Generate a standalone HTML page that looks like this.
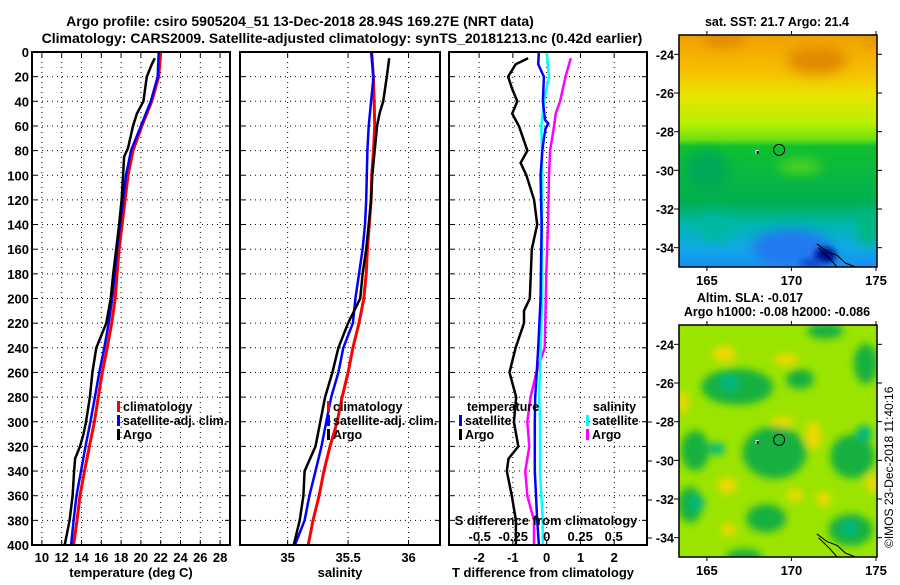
<!DOCTYPE html>
<html><head><meta charset="utf-8"><style>
body{margin:0;background:#fff;width:900px;height:580px;overflow:hidden;font-family:"Liberation Sans",sans-serif}
svg text{font-family:"Liberation Sans",sans-serif;font-weight:bold;fill:#000}
</style></head><body>
<svg id="c" width="900" height="580" viewBox="0 0 900 580" xmlns="http://www.w3.org/2000/svg">
<defs>
<filter id="blur6" x="-50%" y="-50%" width="200%" height="200%"><feGaussianBlur stdDeviation="6"/></filter>
<filter id="blur4" x="-50%" y="-50%" width="200%" height="200%"><feGaussianBlur stdDeviation="4"/></filter>
<filter id="blur3" x="-50%" y="-50%" width="200%" height="200%"><feGaussianBlur stdDeviation="3"/></filter>
<linearGradient id="sstg" x1="0" y1="0" x2="0" y2="1">
<stop offset="0" stop-color="#f0a000"/><stop offset="0.16" stop-color="#f6c000"/><stop offset="0.26" stop-color="#e8e400"/>
<stop offset="0.38" stop-color="#b8f000"/><stop offset="0.45" stop-color="#70e010"/><stop offset="0.48" stop-color="#10c030"/>
<stop offset="0.72" stop-color="#00b050"/><stop offset="0.82" stop-color="#00b8b0"/><stop offset="0.92" stop-color="#10a8e8"/><stop offset="1" stop-color="#1890f0"/>
</linearGradient>
<clipPath id="clipA"><rect x="679" y="35" width="198" height="232"/></clipPath>
<clipPath id="clipB"><rect x="679" y="325" width="198" height="232"/></clipPath>
</defs>
<text x="300" y="26" font-size="14" text-anchor="middle">Argo profile: csiro 5905204_51 13-Dec-2018 28.94S 169.27E (NRT data)</text>
<text x="342" y="43" font-size="14" text-anchor="middle">Climatology: CARS2009. Satellite-adjusted climatology: synTS_20181213.nc (0.42d earlier)</text>
<g id="g"></g>
<text transform="translate(893,548) rotate(-90)" font-size="12" style="font-weight:normal">©IMOS 23-Dec-2018 11:40:16</text>
</svg>
<script>
// ---------- data ----------
const depths = [0,20,40,60,80,100,120,140,160,180,200,220,240,260,280,300,320,340,360,380,400];
const tempClim = [22.0,21.8,21.1,20.1,19.2,18.7,18.4,18.1,17.8,17.6,17.4,17.05,16.6,16.1,15.7,15.3,14.8,14.3,13.85,13.55,13.2];
const tempSat  = [21.8,21.7,21.0,20.0,19.0,18.5,18.2,17.9,17.6,17.35,17.1,16.75,16.3,15.8,15.35,14.9,14.4,13.95,13.5,13.2,12.95];
const argoDepths = [5,10,20,40,50,60,78,85,100,120,140,160,180,200,220,230,240,260,280,300,310,320,330,340,360,380,400];
const tempArgo = [21.4,21.1,20.6,20.25,19.6,19.2,18.7,18.3,18.2,18.05,17.8,17.5,17.2,16.95,16.5,16.0,15.5,15.1,14.85,14.45,14.2,13.85,13.35,13.25,13.1,12.8,12.3];
const salClim = [35.695,35.708,35.716,35.72,35.71,35.695,35.69,35.675,35.66,35.65,35.63,35.59,35.54,35.50,35.45,35.41,35.35,35.30,35.26,35.21,35.17];
const salSat  = [35.69,35.71,35.69,35.67,35.66,35.655,35.65,35.64,35.62,35.59,35.56,35.54,35.46,35.42,35.36,35.32,35.28,35.23,35.18,35.14,35.06];
const salArgoDepths = [5,20,40,50,60,80,90,100,120,140,160,180,200,220,240,260,280,300,320,340,360,380,400];
const salArgo = [35.84,35.82,35.79,35.76,35.74,35.72,35.71,35.70,35.69,35.67,35.65,35.62,35.60,35.50,35.42,35.37,35.31,35.27,35.23,35.14,35.13,35.10,35.05];
const dTDepths = [5,10,20,30,40,50,60,80,90,100,120,140,160,180,200,210,220,240,260,280,300,320,330,340,360,380,400];
const dTArgo = [-0.55,-0.92,-1.14,-1.02,-0.87,-1.02,-0.82,-0.57,-0.77,-0.60,-0.37,-0.28,-0.44,-0.47,-0.5,-0.67,-0.67,-0.92,-1.1,-0.9,-0.97,-0.84,-1.13,-1.18,-1.03,-0.91,-0.91];
const dTSatDepths = [0,10,20,40,55,58,62,70,80,100,140,200,240,280,300,340,380,400];
const dTSat = [-0.23,-0.25,-0.08,-0.11,-0.05,0.05,-0.03,-0.08,-0.13,-0.18,-0.15,-0.18,-0.25,-0.34,-0.35,-0.35,-0.28,-0.23];
const dSSatDepths = [0,20,40,60,80,100,200,240,280,300,340,380,400];
const dSSat = [0.0,0.017,-0.02,-0.04,-0.035,-0.035,-0.035,-0.045,-0.057,-0.05,-0.05,-0.03,-0.03];
const dSArgoDepths = [5,20,40,50,60,80,100,140,180,200,240,260,280,300,320,340,360,380,400];
const dSArgo = [0.18,0.14,0.10,0.067,0.055,0.025,0.017,0.01,-0.003,-0.007,-0.015,-0.077,-0.12,-0.145,-0.13,-0.16,-0.145,-0.095,-0.095];
const depthTicks = [0,20,40,60,80,100,120,140,160,180,200,220,240,260,280,300,320,340,360,380,400];
const tempTicks = [10,12,14,16,18,20,22,24,26,28];
const salTicks = [35,35.5,36];
const dTTicks = [-2,-1,0,1,2];
const dTTickLabels = ["-2","-1","0","1","2"];
const dSTicks = [-0.5,-0.25,0,0.25,0.5];
const dSTickLabels = ["-0.5","-0.25","0","0.25","0.5"];
const latTicks = [-24,-26,-28,-30,-32,-34];
const lonTicks = [165,170,175];
const argoPos = [169.27,-28.94];

// ---------- helpers ----------
const NS="http://www.w3.org/2000/svg";
const G=document.getElementById('g');
function mk(tag,attrs,parent){const e=document.createElementNS(NS,tag);for(const k in attrs)e.setAttribute(k,attrs[k]);(parent||G).appendChild(e);return e;}
const Y0=52,Y1=545;
const yD=d=>Y0+d*(Y1-Y0)/400;
function lin(d0,d1,r0,r1){return v=>r0+(v-d0)*(r1-r0)/(d1-d0);}
const xT=lin(9,29,32,230);
const xS=lin(34.606,36.26,240,440);
const xdT=lin(-2.89,2.97,449,647);
const xdS=lin(0,1,546.7,680.7);

function panel(name,x0,x1,xTickVals,xs,showY){
  const pg=mk('g',{});
  
  
  mk('rect',{x:x0,y:Y0,width:x1-x0,height:Y1-Y0,fill:'#fff',stroke:'none'},pg);
  depthTicks.forEach(d=>{ if(d>0&&d<400){const l=mk('line',{x1:x0,x2:x1,y1:yD(d),y2:yD(d),stroke:'#000','stroke-width':1,'stroke-dasharray':'1 4'},pg);
    
    
    mk('line',{x1:x0,x2:x0+5,y1:yD(d),y2:yD(d),stroke:'#000'},pg);mk('line',{x1:x1-5,x2:x1,y1:yD(d),y2:yD(d),stroke:'#000'},pg);}
    if(showY){const t=mk('text',{x:x0-3,y:yD(d)+5,'font-size':13,'text-anchor':'end'},pg);t.textContent=d;
      
      }
  });
  xTickVals.forEach(v=>{const x=xs(v);const l=mk('line',{x1:x,x2:x,y1:Y0,y2:Y1,stroke:'#000','stroke-width':1,'stroke-dasharray':'1 4'},pg);
    
    
    mk('line',{x1:x,x2:x,y1:Y1-5,y2:Y1,stroke:'#000'},pg);mk('line',{x1:x,x2:x,y1:Y0,y2:Y0+5,stroke:'#000'},pg);});
  return pg;
}
function frame(pg,x0,x1){mk('rect',{x:x0,y:Y0,width:x1-x0,height:Y1-Y0,fill:'none',stroke:'#000','stroke-width':2},pg);}
function series(pg,name,ds,vs,xs,color,w){
  const pts=ds.map((d,i)=>xs(vs[i]).toFixed(1)+','+yD(d).toFixed(1)).join(' ');
  const p=mk('polyline',{points:pts,fill:'none',stroke:color,'stroke-width':w||2.5,'stroke-linejoin':'miter'},pg);
  
  
}
function txt(s,x,y,size,anchor,name,parent){const t=mk('text',{x:x,y:y,'font-size':size,'text-anchor':anchor||'start'},parent);t.textContent=s;
  
  return t;}
function legend(pg,x,y,color,label,name){
  const m=mk('rect',{x:x,y:y-10,width:3,height:11,fill:color},pg);
  
  
  txt(label,x+6,y,12.5,'start',name+'-label',pg);
}

// ---------- panel 1: temperature ----------
let p1=panel('temperature-panel',32,230,tempTicks,xT,true);
series(p1,'temperature-climatology-line',depths,tempClim,xT,'#ff0000',3);
series(p1,'temperature-satellite-line',depths,tempSat,xT,'#0000ff',2.5);
series(p1,'temperature-argo-line',argoDepths,tempArgo,xT,'#000000',2.5);
frame(p1,32,230);
tempTicks.forEach(v=>txt(String(v),xT(v),562,13,'middle','temperature-tick-label',p1));
txt('temperature (deg C)',131,577,13,'middle','temperature-axis-title',p1);
legend(p1,117,411,'#ff0000','climatology','legend-climatology');
legend(p1,117,425,'#0000ff','satellite-adj. clim.','legend-satellite');
legend(p1,117,439,'#000000','Argo','legend-argo');

// ---------- panel 2: salinity ----------
let p2=panel('salinity-panel',240,440,salTicks,xS,false);
series(p2,'salinity-climatology-line',depths,salClim,xS,'#ff0000',3);
series(p2,'salinity-satellite-line',depths,salSat,xS,'#0000ff',2.5);
series(p2,'salinity-argo-line',salArgoDepths,salArgo,xS,'#000000',2.5);
frame(p2,240,440);
salTicks.forEach(v=>txt(String(v),xS(v),562,13,'middle','salinity-tick-label',p2));
txt('salinity',340,577,13,'middle','salinity-axis-title',p2);
legend(p2,327,411,'#ff0000','climatology','legend-climatology');
legend(p2,327,425,'#0000ff','satellite-adj. clim.','legend-satellite');
legend(p2,327,439,'#000000','Argo','legend-argo');

// ---------- panel 3: differences ----------
let p3=panel('difference-panel',449,647,dTTicks,xdT,false);
series(p3,'t-diff-argo-line',dTDepths,dTArgo,xdT,'#000000',2.5);
series(p3,'s-diff-argo-line',dSArgoDepths,dSArgo,xdS,'#ff00ff',2.5);
series(p3,'s-diff-satellite-line',dSSatDepths,dSSat,xdS,'#00ffff',2.5);
series(p3,'t-diff-satellite-line',dTSatDepths,dTSat,xdT,'#0000ff',2.5);
frame(p3,449,647);
[422,461,500,538].forEach(y=>mk('line',{x1:647,x2:652,y1:y,y2:y,stroke:'#000'},p3));
dTTicks.forEach((v,i)=>txt(dTTickLabels[i],xdT(v),562,13,'middle','t-diff-tick-label',p3));
dSTicks.forEach((v,i)=>txt(dSTickLabels[i],xdS(v),541,13,'middle','s-diff-tick-label',p3));
txt('S difference from climatology',546,525,13,'middle','s-diff-axis-title',p3);
txt('T difference from climatology',543,577,13,'middle','t-diff-axis-title',p3);
txt('temperature',467,411,12.5,'start','legend-temperature-heading',p3);
legend(p3,459,425,'#0000ff','satellite','legend-t-satellite');
legend(p3,459,439,'#000000','Argo','legend-t-argo');
txt('salinity',593,411,12.5,'start','legend-salinity-heading',p3);
legend(p3,586,425,'#00ffff','satellite','legend-s-satellite');
legend(p3,586,439,'#ff00ff','Argo','legend-s-argo');

// ---------- maps ----------
const LON0=163.35,LON1=175.06,LAT0=-23,LAT1=-35;
function mapAxes(name,top,bot,clip,fillFn){
  const mg=mk('g',{});
  
  
  const xl=lin(LON0,LON1,679,877), yl=lin(LAT0,LAT1,top,bot);
  const inner=mk('g',{'clip-path':'url(#'+clip+')'},mg);
  fillFn(inner,xl,yl);
  mk('polyline',{points:[[171.5,-33.8],[172.1,-34.2],[172.7,-34.4],[173.2,-34.8],[173.8,-35.0],[174.3,-35.1]].map(p=>xl(p[0])+','+yl(p[1])).join(' '),fill:'none',stroke:'#000','stroke-width':1},inner);
  mk('polyline',{points:[[171.6,-34.0],[172.3,-34.6],[172.8,-35.1]].map(p=>xl(p[0])+','+yl(p[1])).join(' '),fill:'none',stroke:'#000','stroke-width':1},inner);
  mk('rect',{x:xl(168)-2,y:yl(-29.05)-2,width:3,height:4,fill:'#fff'},inner);
  mk('rect',{x:xl(168)-1,y:yl(-29.05)-1,width:2,height:3,fill:'#000'},inner);
  const c=mk('circle',{cx:xl(argoPos[0]),cy:yl(argoPos[1]),r:5.5,fill:'none',stroke:'#000','stroke-width':1},inner);
  
  
  mk('rect',{x:679,y:top,width:198,height:bot-top,fill:'none',stroke:'#000','stroke-width':1.5},mg);
  latTicks.forEach(v=>{mk('line',{x1:674,x2:679,y1:yl(v),y2:yl(v),stroke:'#000'},mg);mk('line',{x1:877,x2:882,y1:yl(v),y2:yl(v),stroke:'#000'},mg);
    txt(String(v),674,yl(v)+5,12.5,'end','lat-tick-label',mg);});
  lonTicks.forEach(v=>{mk('line',{x1:xl(v),x2:xl(v),y1:top-4,y2:top,stroke:'#000'},mg);mk('line',{x1:xl(v),x2:xl(v),y1:bot,y2:bot+4,stroke:'#000'},mg);
    txt(String(v),xl(v),bot+18,13,'middle','lon-tick-label',mg);});
  return mg;
}
mapAxes('sst-map',35,267,'clipA',(g,xl,yl)=>{
  mk('rect',{x:679,y:35,width:198,height:232,fill:'url(#sstg)'},g);
  const b=mk('g',{filter:'url(#blur6)'},g);
  mk('ellipse',{cx:xl(166),cy:yl(-23.2),rx:22,ry:8,fill:'#e08800'},b);
  mk('ellipse',{cx:xl(171.5),cy:yl(-24.3),rx:30,ry:14,fill:'#e08a00'},b);
  mk('ellipse',{cx:xl(174.8),cy:yl(-23.3),rx:8,ry:6,fill:'#e09000'},b);
  mk('ellipse',{cx:xl(170.5),cy:yl(-29.8),rx:22,ry:6,fill:'#60d818'},b);
  mk('ellipse',{cx:xl(165),cy:yl(-30),rx:22,ry:20,fill:'#00a858'},b);
  mk('ellipse',{cx:xl(170),cy:yl(-34),rx:40,ry:18,fill:'#2078f0'},b);
  mk('ellipse',{cx:xl(165.5),cy:yl(-33),rx:18,ry:14,fill:'#00b8a0'},b);
  mk('ellipse',{cx:xl(174.5),cy:yl(-33),rx:10,ry:18,fill:'#00b878'},b);
  const d=mk('g',{filter:'url(#blur3)'},g);
  mk('ellipse',{cx:xl(172),cy:yl(-34.4),rx:11,ry:8,fill:'#000890'},d);
  mk('ellipse',{cx:xl(171.2),cy:yl(-34.8),rx:12,ry:5,fill:'#1050d0'},d);
});
mapAxes('sla-map',325,557,'clipB',(g,xl,yl)=>{
  mk('rect',{x:679,y:325,width:198,height:232,fill:'#9ae400'},g);
  const b=mk('g',{filter:'url(#blur4)'},g);
  const grn=[[166.8,-26.2,36,18],[169,-29.6,32,26],[164.3,-29.5,14,20],[173.6,-29.8,22,22],[168.5,-33,20,14],[173.5,-33.6,22,16],[174.4,-25,12,20],[164,-32.3,12,18],[172,-23.3,18,8],[167.2,-35,18,8],[170.5,-25.8,14,10]];
  grn.forEach(e=>mk('ellipse',{cx:xl(e[0]),cy:yl(e[1]),rx:e[2],ry:e[3],fill:'#14b040'},b));
  const teal=[[166.3,-26,10,8],[165.6,-29.4,8,6],[164.4,-32.2,8,8],[174.3,-28.6,8,8],[173.4,-33.5,8,8]];
  teal.forEach(e=>mk('ellipse',{cx:xl(e[0]),cy:yl(e[1]),rx:e[2],ry:e[3],fill:'#00b880'},b));
  const yel=[[166,-24.5,12,8],[169.7,-24.8,12,6],[163.6,-27,5,12],[169.5,-28,12,5],[171.3,-28.7,8,14],[166.2,-31.3,10,8],[170.2,-31.8,9,6],[171.9,-32,8,7],[174.8,-31.2,6,10],[166.3,-33.6,8,6]];
  yel.forEach(e=>mk('ellipse',{cx:xl(e[0]),cy:yl(e[1]),rx:e[2],ry:e[3],fill:'#f0d800'},b));
});
txt('sat. SST: 21.7 Argo: 21.4',777,26,12.5,'middle','sst-map-title');
txt('Altim. SLA: -0.017',750,302,12.5,'middle','sla-map-title');
txt('Argo h1000: -0.08 h2000: -0.086',777,316,12.5,'middle','argo-height-title');
</script>
</body></html>
